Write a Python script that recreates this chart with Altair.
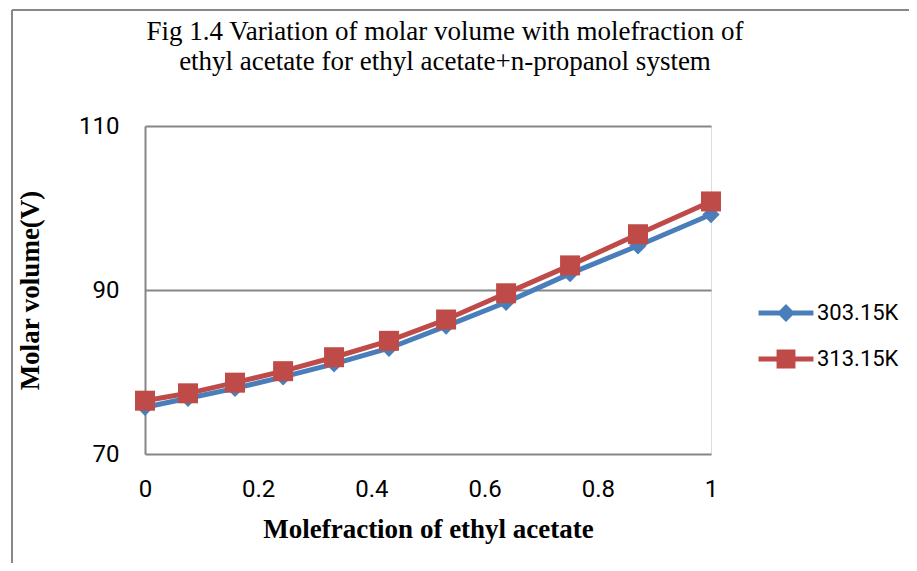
import altair as alt
import pandas as pd

mole_fraction = [0.0, 0.076, 0.159, 0.244, 0.334, 0.431, 0.532, 0.638, 0.751, 0.871, 1.0]
v_303 = [75.7, 76.8, 78.0, 79.4, 81.0, 82.9, 85.6, 88.5, 92.0, 95.4, 99.2]
v_313 = [76.5, 77.4, 78.7, 80.1, 81.8, 83.8, 86.4, 89.6, 93.0, 96.8, 100.8]
series_names = ["303.15K", "313.15K"]
colors = ["#4A7EBB", "#BE4B48"]
x_ticks = [0, 0.2, 0.4, 0.6, 0.8, 1]
y_ticks = [70, 90, 110]
title_lines = [
    "Fig 1.4 Variation of molar volume with molefraction of",
    "ethyl acetate  for ethyl acetate+n-propanol system",
]

rows = []
for s, vals in zip(series_names, [v_303, v_313]):
    for x, v in zip(mole_fraction, vals):
        rows.append({"x": x, "v": v, "series": s})
df = pd.DataFrame(rows)

GRAY = "#868686"

xenc = alt.X(
    "x:Q",
    scale=alt.Scale(domain=[0, 1], nice=False),
    axis=alt.Axis(
        values=x_ticks, format="~g", title="Molefraction of ethyl acetate",
        titleFont="Liberation Serif", titleFontWeight="bold", titleFontSize=27,
        titleColor="black", labelFont="Roboto", labelFontSize=24, labelColor="black",
        labelFlush=False, domain=False, ticks=False, grid=False,
        labelPadding=23, titlePadding=15,
    ),
)
yenc = alt.Y(
    "v:Q",
    scale=alt.Scale(domain=[70, 110], nice=False, zero=False),
    axis=alt.Axis(
        values=y_ticks, title="Molar volume(V)",
        titleFont="Liberation Serif", titleFontWeight="bold", titleFontSize=27,
        titleColor="black", labelFont="Roboto", labelFontSize=24, labelColor="black",
        domain=True, domainColor=GRAY, domainWidth=2, ticks=False,
        grid=True, gridColor=GRAY, gridWidth=2, labelPadding=26, titlePadding=34,
    ),
)

color_scale = alt.Scale(domain=series_names, range=colors)

diamond_path = "M-3.05,-0.28H3.05V0.28H-3.05Z M0,-1L1,0L0,1L-1,0Z"
square_path = "M-3.05,-0.28H3.05V0.28H-3.05Z M-1.05,-1.05H1.05V1.05H-1.05Z"

legend_props = dict(
    orient="none", legendX=630, legendY=176, title=None, symbolSize=324,
    symbolOpacity=1, symbolStrokeWidth=0, labelFont="Roboto", labelFontSize=22,
    labelColor="black", labelOffset=20, rowPadding=24, padding=0,
)

base = alt.Chart(df)

blue_pts = base.transform_filter(alt.datum.series == series_names[0]).mark_point(
    shape="diamond", filled=True, size=300, opacity=1, color=colors[0]
).encode(x=xenc, y=yenc)

red_pts = base.transform_filter(alt.datum.series == series_names[1]).mark_point(
    shape="square", filled=True, size=400, opacity=1, color=colors[1]
).encode(x=xenc, y=yenc)

blue_line = base.transform_filter(alt.datum.series == series_names[0]).mark_line(
    strokeWidth=5, color=colors[0]).encode(x=xenc, y=yenc)
red_line = base.transform_filter(alt.datum.series == series_names[1]).mark_line(
    strokeWidth=5, color=colors[1]).encode(x=xenc, y=yenc)

legend_layer = base.mark_point(filled=True, opacity=0, size=10).encode(
    x=xenc, y=yenc,
    color=alt.Color("series:N", scale=color_scale, legend=alt.Legend(**legend_props)),
    shape=alt.Shape("series:N", scale=alt.Scale(domain=series_names, range=[diamond_path, square_path]),
                    legend=alt.Legend(**legend_props)),
)

border_top = base.mark_rule(color="#888888", strokeWidth=1.5).encode(
    x=alt.value(-133), x2=alt.value(764), y=alt.value(-116)
)
border_left = base.mark_rule(color="#888888", strokeWidth=1.5).encode(
    x=alt.value(-133), y=alt.value(-116), y2=alt.value(437)
)

chart = alt.layer(
    border_top, border_left, legend_layer, blue_line, blue_pts, red_line, red_pts
).properties(
    width=566, height=328,
    autosize=alt.AutoSizeParams(type="none"),
    padding={"left": 137, "top": 118, "right": 198, "bottom": 109},
    title=alt.Title(
        text=title_lines, font="Liberation Serif", fontSize=27, fontWeight="normal",
        color="black", anchor="middle", dx=17, offset=-67, lineHeight=30,
    ),
).configure_view(stroke=None).configure(background="white")

chart.save("out.html", embed_options={"renderer": "svg", "actions": False})
